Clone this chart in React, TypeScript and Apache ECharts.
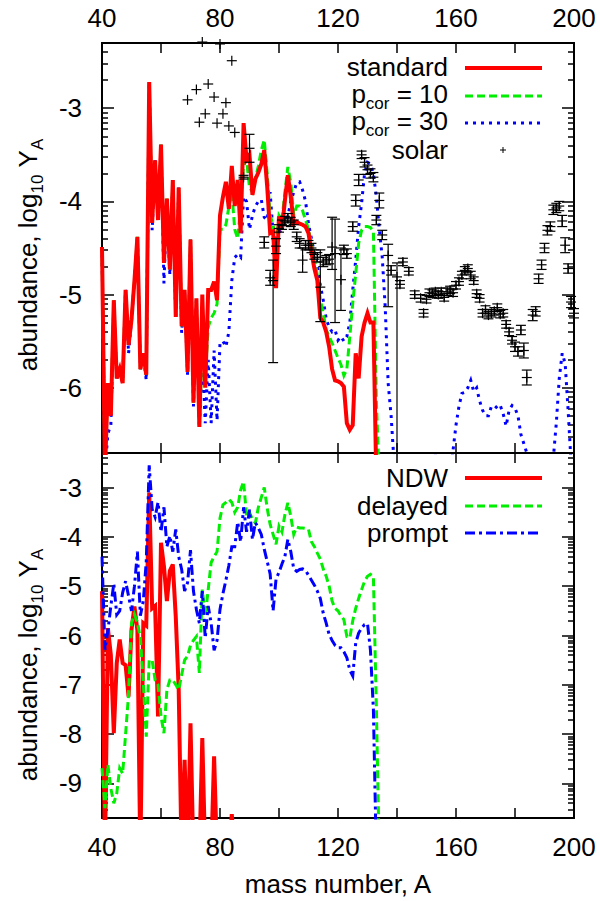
import React, { useEffect, useRef } from "react";
import * as echarts from "echarts";

const FONT = '"Liberation Sans", Arial, Helvetica, sans-serif';
const A0 = 40;

// ---- top panel (A from 40, one value per mass number) ----
const standard = [
  -4.49, -6.9, -5.95, -6.3, -5.06, -5.9, -5.8, -5.95, -4.95, -5.54,
  -5.27, -4.85, -4.38, -5.8, -5.63, -5.86, -2.72, -4.23, -3.56, -4.2,
  -3.39, -4.66, -3.97, -4.73, -3.77, -5.24, -3.85, -5.34, -4.95, -5.83,
  -4.41, -6.16, -5.04, -6.42, -5.0, -6.0, -4.95, -4.95, -4.86, -5.06,
  -4.15, -3.95, -3.79, -4.08, -3.62, -4.05, -3.77, -4.34, -3.16, -3.55,
  -3.5, -3.93, -3.76, -3.69, -3.6, -3.45, -3.84, -4.34, -4.32, -4.93,
  -4.16, -4.3, -3.99, -3.72, -3.95, -4.24, -4.22, -4.24, -4.25, -4.27,
  -4.34, -4.55, -4.72, -4.85, -5.25, -5.3, -5.4, -5.56, -5.8, -5.92,
  -5.93, -5.95, -5.99, -6.38, -6.45, -6.4, -5.63, -5.9, -5.45, -5.3,
  -5.2, -5.3, -5.3, -7.0,
];
const pcor10 = [
  -4.49, -6.9, -5.95, -6.3, -5.06, -5.9, -5.8, -5.95, -4.95, -5.54,
  -5.27, -4.85, -4.38, -5.8, -5.63, -5.86, -2.72, -4.23, -3.56, -4.2,
  -3.39, -4.66, -3.97, -4.73, -3.77, -5.24, -3.85, -5.34, -4.95, -5.83,
  -4.41, -6.16, -5.04, -6.4, -5.6, -5.9, -5.35, -5.25, -5.2, -5.1,
  -4.3, -4.3, -4.25, -4.06, -3.9, -4.3, -4.4, -4.05, -3.6, -3.55,
  -3.85, -3.9, -3.75, -3.62, -3.45, -3.34, -3.7, -4.15, -4.25, -4.5,
  -4.15, -4.2, -3.9, -3.63, -3.8, -4.15, -4.05, -4.05, -4.1, -4.2,
  -4.3, -4.45, -4.6, -4.8, -5.05, -5.2, -5.38, -5.45, -5.52, -5.6,
  -5.68, -5.75, -5.87, -5.8, -5.45, -5.09, -4.78, -4.45, -4.31, -4.27,
  -4.27, -4.28, -4.32, -6.13, -7.0,
];
const pcor30 = [
  -4.49, -6.9, -6.49, -6.4, -5.06, -5.9, -5.8, -5.95, -4.95, -5.63,
  -5.27, -4.85, -4.38, -5.8, -5.63, -5.92, -2.72, -4.31, -3.56, -4.2,
  -3.39, -4.88, -3.97, -4.79, -3.77, -5.26, -3.85, -5.41, -4.95, -5.86,
  -4.41, -6.2, -5.04, -6.42, -5.65, -6.38, -5.7, -6.38, -5.6, -6.35,
  -5.52, -5.5, -5.56, -5.4, -4.85, -4.6, -4.57, -4.6, -3.95, -4.0,
  -4.3, -4.15, -4.05, -4.0, -3.98, -4.17, -4.2, -3.9, -4.35, -4.4,
  -4.33, -4.3, -4.2, -4.16, -4.0, -3.9, -3.8, -3.79, -3.88, -4.0,
  -4.24, -4.4, -4.55, -4.7, -4.9, -5.06, -5.26, -5.35, -5.4, -5.38,
  -5.49, -5.45, -5.5, -5.45, -5.3, -4.95, -4.63, -4.27, -4.02, -3.7,
  -3.58, -3.6, -3.7, -3.95, -4.3, -4.6, -5.13, -5.95, -6.3, -6.8,
  -7.2, -7.2, -7.2, -7.2, -7.2, -7.2, -7.2, -7.2, -7.2, -7.2,
  -7.2, -7.2, -7.0, -6.72, -7.0, -7.2, -7.2, -7.2, -7.0, -6.67,
  -6.4, -6.2, -6.06, -6.05, -6.0, -5.92, -6.04, -6.0, -6.14, -6.24,
  -6.3, -6.3, -6.2, -6.19, -6.22, -6.19, -6.28, -6.41, -6.24, -6.19,
  -6.22, -6.3, -6.5, -6.6, -6.7, -7.2, -7.2, -7.2, -7.2, -7.2,
  -7.2, -7.2, -7.2, -6.75, -6.38, -5.9, -5.63, -5.74, -6.24, -6.8,
  -7.2,
];
// solar: [A, log10 Y, error down, error up]
const solar: number[][] = [
  [69, -2.91, 0, 0], [72, -2.8, 0, 0], [73, -3.15, 0, 0], [74, -2.29, 0, 0],
  [75, -3.06, 0, 0], [76, -2.74, 0, 0], [78, -2.88, 0, 0], [79, -3.16, 0, 0],
  [80, -2.31, 0, 0], [81, -3.06, 0, 0], [82, -2.94, 0, 0], [83, -3.19, 0, 0],
  [84, -2.49, 0, 0], [85, -3.26, 0, 0], [88, -3.74, 0.02, 0.02], [90, -3.43, 0.15, 0.15],
  [95, -4.44, 0.06, 0.06], [97, -4.82, 0.08, 0.08], [98, -4.85, 0.88, 0.22], [99, -4.48, 0.08, 0.08],
  [100, -4.29, 0.04, 0.04], [101, -4.25, 0.05, 0.05], [102, -4.21, 0.05, 0.05], [103, -4.18, 0.05, 0.05],
  [104, -4.22, 0.05, 0.05], [105, -4.25, 0.05, 0.05], [106, -4.38, 0.05, 0.05], [107, -4.45, 0.05, 0.05],
  [108, -4.63, 0.13, 0.13], [109, -4.47, 0.05, 0.05], [110, -4.47, 0.05, 0.05], [111, -4.5, 0.05, 0.05],
  [112, -4.57, 0.05, 0.05], [113, -4.6, 0.05, 0.05], [114, -4.92, 0.37, 0.4], [115, -4.65, 0.05, 0.05],
  [116, -4.63, 0.05, 0.05], [117, -4.62, 0.05, 0.05], [118, -4.49, 0.24, 0.32], [119, -4.56, 0.74, 0.37],
  [121, -4.84, 0.33, 0.34], [122, -4.52, 0.05, 0.05], [123, -4.56, 0.05, 0.05], [125, -4.27, 0.05, 0.05],
  [126, -3.99, 0.06, 0.06], [127, -3.77, 0.06, 0.06], [128, -3.5, 0.04, 0.04], [129, -3.58, 0.05, 0.05],
  [130, -3.66, 0.05, 0.05], [131, -3.7, 0.05, 0.05], [132, -3.74, 0.05, 0.05], [133, -4.2, 0.05, 0.05],
  [134, -3.99, 0.08, 0.08], [135, -4.36, 0.05, 0.05], [137, -4.58, 0.55, 0.12], [138, -4.74, 0.05, 0.05],
  [140, -4.81, 1.89, 0.15], [141, -4.89, 0.04, 0.04], [142, -4.65, 0.04, 0.04], [144, -4.75, 0.04, 0.04],
  [146, -5.0, 0.04, 0.04], [148, -5.04, 0.04, 0.04], [149, -5.2, 0.04, 0.04], [150, -5.05, 0.04, 0.04],
  [151, -4.98, 0.04, 0.04], [152, -4.99, 0.04, 0.04], [153, -4.97, 0.04, 0.04], [154, -5.0, 0.04, 0.04],
  [155, -4.97, 0.04, 0.04], [156, -5.03, 0.04, 0.04], [157, -4.97, 0.04, 0.04], [158, -4.95, 0.04, 0.04],
  [159, -4.98, 0.04, 0.04], [160, -4.9, 0.04, 0.04], [161, -4.86, 0.04, 0.04], [162, -4.79, 0.04, 0.04],
  [163, -4.74, 0.04, 0.04], [164, -4.72, 0.04, 0.04], [165, -4.79, 0.04, 0.04], [166, -4.85, 0.04, 0.04],
  [167, -4.99, 0.04, 0.04], [168, -5.04, 0.04, 0.04], [169, -5.2, 0.04, 0.04], [170, -5.16, 0.04, 0.04],
  [171, -5.22, 0.04, 0.04], [172, -5.2, 0.04, 0.04], [173, -5.18, 0.04, 0.04], [174, -5.14, 0.04, 0.04],
  [175, -5.21, 0.04, 0.04], [176, -5.2, 0.04, 0.04], [177, -5.32, 0.04, 0.04], [178, -5.4, 0.04, 0.04],
  [179, -5.49, 0.04, 0.04], [180, -5.56, 0.05, 0.05], [181, -5.61, 0.05, 0.05], [182, -5.38, 0.05, 0.05],
  [183, -5.6, 0.08, 0.08], [184, -5.89, 0.08, 0.08], [186, -5.22, 0.06, 0.06], [187, -5.18, 0.05, 0.05],
  [188, -4.83, 0.05, 0.05], [189, -4.68, 0.05, 0.05], [190, -4.5, 0.05, 0.05], [191, -4.31, 0.05, 0.05],
  [192, -4.27, 0.05, 0.05], [193, -4.09, 0.05, 0.05], [194, -4.07, 0.05, 0.05], [195, -4.05, 0.05, 0.05],
  [196, -4.21, 0.06, 0.06], [197, -4.47, 0.08, 0.08], [198, -4.72, 0.05, 0.05], [199, -5.08, 0.06, 0.06],
  [200, -5.2, 0.05, 0.05],
];

// ---- bottom panel ----
const ndw = [
  -5.1, -10.5, -5.85, -6.4, -7.98, -6.56, -6.08, -6.56, -6.6, -7.24,
  -5.88, -5.41, -5.9, -10.5, -5.75, -5.8, -3.1, -5.45, -5.4, -7.64,
  -4.12, -4.6, -5.3, -4.69, -4.56, -5.61, -7.1, -10.5, -8.52, -10.5,
  -7.78, -10.5, -10.5, -10.5, -8.08, -10.5, -10.5, -10.5, -8.45, -10.5,
  -10.5, -10.5, -10.5, -10.5, -9.62, -10.5,
];
const delayed = [
  -8.69, -9.5, -8.62, -9.1, -9.4, -9.2, -8.69, -8.8, -8.0, -7.2,
  -5.75, -5.57, -5.73, -6.05, -6.95, -8.05, -6.5, -6.5, -6.9, -7.0,
  -7.64, -7.98, -7.1, -6.9, -6.9, -7.0, -7.1, -6.8, -6.5, -6.42,
  -6.2, -6.1, -6.02, -6.76, -5.07, -5.61, -5.07, -4.52, -4.4, -4.3,
  -3.62, -3.35, -3.3, -3.24, -3.3, -3.5, -3.4, -3.05, -2.88, -3.58,
  -3.5, -3.65, -3.72, -3.4, -3.2, -3.0, -3.42, -3.75, -3.95, -4.15,
  -3.78, -3.9, -3.55, -3.31, -3.58, -3.95, -3.8, -3.82, -3.82, -3.83,
  -3.85, -4.1, -4.2, -4.33, -4.45, -4.65, -4.8, -5.0, -5.3, -5.45,
  -5.5, -5.6, -5.68, -6.02, -6.05, -5.7, -5.45, -5.25, -5.07, -4.9,
  -4.8, -4.76, -4.8, -7.44, -10.5,
];
const prompt = [
  -4.4, -6.29, -5.9, -5.4, -4.95, -5.58, -5.5, -5.13, -4.9, -5.2,
  -5.5, -5.0, -4.3, -5.6, -5.3, -4.5, -2.55, -3.44, -3.6, -3.3,
  -3.9, -3.4, -4.2, -3.98, -4.3, -3.85, -4.4, -4.66, -5.1, -4.93,
  -4.27, -5.1, -5.47, -5.75, -5.1, -6.05, -5.4, -5.75, -6.3, -6.1,
  -5.47, -5.15, -4.88, -4.58, -4.2, -4.2, -3.7, -4.1, -3.4, -3.9,
  -3.45, -4.05, -3.71, -3.82, -3.95, -4.25, -4.5, -4.75, -5.5, -4.85,
  -4.72, -4.55, -4.4, -4.05, -4.3, -4.65, -4.7, -4.66, -4.65, -4.68,
  -4.78, -4.88, -4.98, -5.1, -5.25, -5.55, -5.75, -5.98, -6.1, -6.2,
  -6.25, -6.25, -6.33, -6.45, -6.7, -6.82, -6.15, -5.95, -5.85, -5.78,
  -5.76, -6.3, -7.5, -10.5,
];

// ---- axes ----
const xTickValues = [40, 60, 80, 100, 120, 140, 160, 180, 200];
const xLabelValues = [40, 80, 120, 160, 200];
const topYTicks = [-6, -5, -4, -3];
const botYTicks = [-9, -8, -7, -6, -5, -4, -3];
const topRange = [-6.7, -2.3];
const botRange = [-9.7, -2.3];

function logMinorTicks(min: number, max: number) {
  const out: number[] = [];
  for (let k = Math.floor(min); k < Math.ceil(max); k++) {
    for (let m = 2; m <= 9; m++) {
      const v = k + Math.log10(m);
      if (v > min && v < max) out.push(v);
    }
  }
  return out;
}

function toPairs(arr: number[]) {
  return arr.map((v, i) => [A0 + i, v]);
}

const BLACK = "#000";
const RED = "#ff0000";
const GREEN = "#00ee00";
const BLUE = "#0000ff";

function xAxis(gridIndex: number, position: string, showLabels: boolean, margin: number) {
  return {
    type: "value",
    gridIndex,
    position,
    min: 40,
    max: 200,
    axisLine: { show: true, onZero: false, lineStyle: { color: BLACK, width: 2 } },
    axisTick: { show: true, inside: true, length: 10, customValues: xTickValues, lineStyle: { color: BLACK, width: 1.5 } },
    axisLabel: { show: showLabels, customValues: xLabelValues, margin, color: BLACK, fontSize: 26, fontFamily: FONT },
    splitLine: { show: false },
  };
}

function yAxis(gridIndex: number, position: string, range: number[], ticks: number[], length: number, showLabels: boolean) {
  return {
    type: "value",
    gridIndex,
    position,
    min: range[0],
    max: range[1],
    axisLine: { show: true, onZero: false, lineStyle: { color: BLACK, width: 2 } },
    axisTick: { show: true, inside: true, length, customValues: ticks, lineStyle: { color: BLACK, width: 1.5 } },
    axisLabel: {
      show: showLabels,
      customValues: ticks,
      margin: 20,
      color: BLACK,
      fontSize: 26,
      fontFamily: FONT,
      formatter: (v: number) => String(Math.round(v)),
    },
    splitLine: { show: false },
  };
}

function line(data: number[], xi: number, yi: number, color: string, type: any, width: number, z: number) {
  return {
    type: "line",
    data: toPairs(data),
    xAxisIndex: xi,
    yAxisIndex: yi,
    showSymbol: false,
    symbol: "none",
    silent: true,
    clip: true,
    z,
    lineStyle: { color, width, type, cap: "butt", join: "miter" },
    emphasis: { disabled: true },
  };
}

// main text sits at the top of the line box; the subscript sits at its bottom
const RICH = {
  m: { fontSize: 26, fontFamily: FONT, lineHeight: 26, verticalAlign: "top", color: BLACK },
  s: { fontSize: 17, fontFamily: FONT, lineHeight: 31, verticalAlign: "bottom", color: BLACK },
};

function legendLabel(x: number, y: number, text: string) {
  return {
    type: "text",
    x,
    y: y - 13,
    z: 100,
    style: { text, rich: RICH, align: "right", verticalAlign: "top", fill: BLACK },
  };
}

function legendLine(y: number, color: string, dash: any, width: number) {
  return {
    type: "line",
    z: 100,
    shape: { x1: 465, y1: y, x2: 542, y2: y },
    style: { stroke: color, lineWidth: width, lineDash: dash, lineCap: "butt" },
  };
}

export default function App() {
  const ref = useRef<HTMLDivElement>(null);
  useEffect(() => {
    if (!ref.current) return;
    const chart = echarts.init(ref.current, null, { renderer: "svg" });
    const topMinor = logMinorTicks(topRange[0], topRange[1]);
    const botMinor = logMinorTicks(botRange[0], botRange[1]);

    const option: any = {
      animation: false,
      backgroundColor: "#fff",
      grid: [
        { left: 102, top: 43, width: 472, height: 410 },
        { left: 102, top: 453, width: 472, height: 365 },
      ],
      xAxis: [
        xAxis(0, "top", true, 12),
        xAxis(0, "bottom", false, 12),
        xAxis(1, "bottom", true, 16),
        xAxis(1, "top", false, 12),
      ],
      yAxis: [
        yAxis(0, "left", topRange, topYTicks, 12, true),
        yAxis(0, "right", topRange, topYTicks, 12, false),
        yAxis(0, "left", topRange, topMinor, 6, false),
        yAxis(0, "right", topRange, topMinor, 6, false),
        yAxis(1, "left", botRange, botYTicks, 12, true),
        yAxis(1, "right", botRange, botYTicks, 12, false),
        yAxis(1, "left", botRange, botMinor, 6, false),
        yAxis(1, "right", botRange, botMinor, 6, false),
      ],
      series: [
        line(pcor30, 0, 0, BLUE, [3, 5], 3, 2),
        line(pcor10, 0, 0, GREEN, [8, 4], 3, 3),
        line(standard, 0, 0, RED, "solid", 4, 4),
        {
          type: "custom",
          xAxisIndex: 0,
          yAxisIndex: 0,
          z: 6,
          silent: true,
          clip: false,
          data: solar.map((d) => [d[0], d[1], Math.max(topRange[0], d[1] - d[2]), d[1] + d[3], d[2] + d[3]]),
          renderItem: (_params: any, api: any) => {
            const a = api.value(0);
            const p = api.coord([a, api.value(1)]);
            const st = { stroke: BLACK, lineWidth: 1.2, fill: "none" };
            const s = 5;
            const children: any[] = [
              { type: "line", shape: { x1: p[0] - s, y1: p[1], x2: p[0] + s, y2: p[1] }, style: st },
              { type: "line", shape: { x1: p[0], y1: p[1] - s, x2: p[0], y2: p[1] + s }, style: st },
            ];
            if (api.value(4) > 0) {
              const lo = api.coord([a, api.value(2)]);
              const hi = api.coord([a, api.value(3)]);
              children.push(
                { type: "line", shape: { x1: lo[0], y1: lo[1], x2: hi[0], y2: hi[1] }, style: st },
                { type: "line", shape: { x1: lo[0] - s, y1: lo[1], x2: lo[0] + s, y2: lo[1] }, style: st },
                { type: "line", shape: { x1: hi[0] - s, y1: hi[1], x2: hi[0] + s, y2: hi[1] }, style: st }
              );
            }
            return { type: "group", children };
          },
        },
        line(ndw, 2, 4, RED, "solid", 4, 2),
        line(delayed, 2, 4, GREEN, [8, 4], 3, 3),
        line(prompt, 2, 4, BLUE, [10, 4, 3, 4], 3, 4),
      ],
      graphic: [
        legendLabel(448, 67, "{m|standard}"),
        legendLine(68, RED, null, 4),
        legendLabel(448, 94, "{m|p}{s|cor}{m| = 10}"),
        legendLine(96, GREEN, [8, 4], 3),
        legendLabel(448, 121, "{m|p}{s|cor}{m| = 30}"),
        legendLine(123, BLUE, [3, 5], 3),
        legendLabel(448, 150, "{m|solar}"),
        { type: "line", z: 100, shape: { x1: 500, y1: 150, x2: 506, y2: 150 }, style: { stroke: BLACK, lineWidth: 1 } },
        { type: "line", z: 100, shape: { x1: 503, y1: 147, x2: 503, y2: 153 }, style: { stroke: BLACK, lineWidth: 1 } },
        legendLabel(448, 478, "{m|NDW}"),
        legendLine(478, RED, null, 4),
        legendLabel(448, 506, "{m|delayed}"),
        legendLine(506, GREEN, [8, 4], 3),
        legendLabel(448, 533, "{m|prompt}"),
        legendLine(533, BLUE, [10, 4, 3, 4], 3),
        {
          type: "text",
          x: 30,
          y: 255,
          rotation: Math.PI / 2,
          style: { text: "{m|abundance, log}{s|10}{m| Y}{s|A}", rich: RICH, align: "center", verticalAlign: "middle", fill: BLACK },
        },
        {
          type: "text",
          x: 30,
          y: 665,
          rotation: Math.PI / 2,
          style: { text: "{m|abundance, log}{s|10}{m| Y}{s|A}", rich: RICH, align: "center", verticalAlign: "middle", fill: BLACK },
        },
        {
          type: "text",
          x: 338,
          y: 884,
          style: { text: "mass number, A", font: `26px ${FONT}`, align: "center", verticalAlign: "middle", fill: BLACK },
        },
      ],
    };
    chart.setOption(option);
    return () => chart.dispose();
  }, []);
  return (
    <div
      ref={ref}
      style={{ position: "fixed", left: 0, top: 0, width: 600, height: 901, background: "#fff" }}
    />
  );
}
